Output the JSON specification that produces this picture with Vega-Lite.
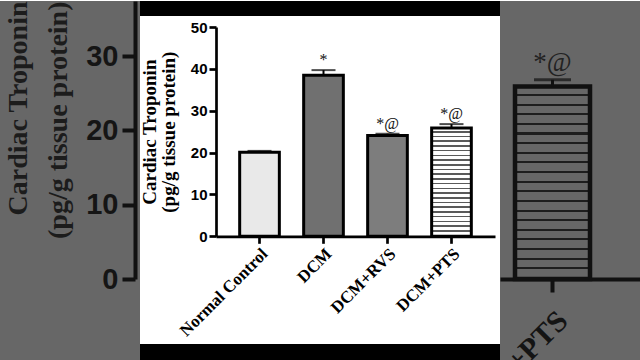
{
  "$schema": "https://vega.github.io/schema/vega-lite/v6.json",
  "background": "#ffffff",
  "padding": 0,
  "spacing": 0,
  "config": {"view": {"stroke": null}},
  "datasets": {
    "bars": [
      {"group": "Normal Control", "value": 20.1, "upper": 20.4, "label": ""},
      {"group": "DCM", "value": 38.5, "upper": 39.7, "label": "*"},
      {"group": "DCM+RVS", "value": 24.1, "upper": 24.5, "label": "*@"},
      {"group": "DCM+PTS", "value": 25.9, "upper": 26.8, "label": "*@"}
    ],
    "blank": [{"k": 1}]
  },
  "hconcat": [
    {
      "width": 140,
      "height": 360,
      "view": {"fill": "#676767", "stroke": null},
      "data": {"name": "bars"},
      "transform": [{"filter": "datum.group === 'Normal Control'"}],
      "mark": {"type": "point", "opacity": 0},
      "encoding": {
        "y": {
          "field": "value",
          "type": "quantitative",
          "scale": {"domain": [0, 37.4], "range": [278, 0], "nice": false, "zero": false},
          "axis": {
            "orient": "left",
            "offset": -135,
            "values": [0, 10, 20, 30],
            "grid": false,
            "labelFont": "Liberation Sans",
            "labelFontWeight": "bold",
            "labelFontSize": 29,
            "labelColor": "#151515",
            "labelPadding": 4,
            "tickSize": 13,
            "tickWidth": 4,
            "tickColor": "#111111",
            "domainWidth": 4,
            "domainColor": "#111111",
            "title": ["Cardiac Troponin", "(pg/g tissue protein)"],
            "titleFont": "Liberation Serif",
            "titleFontSize": 28,
            "titleFontWeight": "bold",
            "titleColor": "#1c1c1c",
            "titleLineHeight": 40,
            "titlePadding": 13,
            "titleAnchor": "end"
          }
        }
      }
    },
    {
      "spacing": 0,
      "vconcat": [
        {
          "width": 360,
          "height": 15,
          "view": {"fill": "#000000", "stroke": null},
          "data": {"name": "blank"},
          "mark": {"type": "point", "opacity": 0}
        },
        {
          "width": 360,
          "height": 328,
          "view": {"fill": "#ffffff", "stroke": null},
          "data": {"name": "bars"},
          "encoding": {
            "x": {
              "field": "group",
              "type": "nominal",
              "sort": null,
              "scale": {"range": [76, 355], "paddingInner": 0.38, "paddingOuter": 0.37},
              "axis": {
                "offset": -107.7,
                "title": null,
                "labelAngle": -45,
                "labelFont": "Liberation Serif",
                "labelFontWeight": "bold",
                "labelFontSize": 17,
                "labelColor": "#000000",
                "labelPadding": 2,
                "labelLimit": 0,
                "tickSize": 7,
                "tickWidth": 2.7,
                "tickColor": "#000000",
                "domainWidth": 2.7,
                "domainColor": "#000000"
              }
            }
          },
          "layer": [
            {
              "mark": {"type": "bar", "stroke": "#000000", "strokeWidth": 3},
              "encoding": {
                "y": {
                  "field": "value",
                  "type": "quantitative",
                  "scale": {"domain": [0, 50], "range": [220.3, 11], "nice": false},
                  "axis": {
                    "offset": -76,
                    "values": [0, 10, 20, 30, 40, 50],
                    "grid": false,
                    "labelFont": "Liberation Sans",
                    "labelFontWeight": "bold",
                    "labelFontSize": 15,
                    "labelColor": "#000000",
                    "labelPadding": 2,
                    "tickSize": 7,
                    "tickWidth": 2.7,
                    "tickColor": "#000000",
                    "domainWidth": 2.7,
                    "domainColor": "#000000",
                    "title": ["Cardiac Troponin", "(pg/g tissue protein)"],
                    "titleFont": "Liberation Serif",
                    "titleFontSize": 19,
                    "titleFontWeight": "bold",
                    "titleColor": "#000000",
                    "titleLineHeight": 19,
                    "titlePadding": 12
                  }
                },
                "fill": {
                  "condition": {
                    "test": "datum.group === 'DCM+PTS'",
                    "value": {
                      "gradient": "linear", "x1": 0, "y1": 0, "x2": 0, "y2": 1,
                      "stops": [
                        {"offset": 0, "color": "#ffffff"}, {"offset": 0.0283, "color": "#ffffff"}, {"offset": 0.0283, "color": "#5a5a5a"}, {"offset": 0.0435, "color": "#5a5a5a"},
                        {"offset": 0.0435, "color": "#ffffff"}, {"offset": 0.0717, "color": "#ffffff"}, {"offset": 0.0717, "color": "#5a5a5a"}, {"offset": 0.0870, "color": "#5a5a5a"},
                        {"offset": 0.0870, "color": "#ffffff"}, {"offset": 0.1152, "color": "#ffffff"}, {"offset": 0.1152, "color": "#5a5a5a"}, {"offset": 0.1304, "color": "#5a5a5a"},
                        {"offset": 0.1304, "color": "#ffffff"}, {"offset": 0.1587, "color": "#ffffff"}, {"offset": 0.1587, "color": "#5a5a5a"}, {"offset": 0.1739, "color": "#5a5a5a"},
                        {"offset": 0.1739, "color": "#ffffff"}, {"offset": 0.2022, "color": "#ffffff"}, {"offset": 0.2022, "color": "#5a5a5a"}, {"offset": 0.2174, "color": "#5a5a5a"},
                        {"offset": 0.2174, "color": "#ffffff"}, {"offset": 0.2457, "color": "#ffffff"}, {"offset": 0.2457, "color": "#5a5a5a"}, {"offset": 0.2609, "color": "#5a5a5a"},
                        {"offset": 0.2609, "color": "#ffffff"}, {"offset": 0.2891, "color": "#ffffff"}, {"offset": 0.2891, "color": "#5a5a5a"}, {"offset": 0.3043, "color": "#5a5a5a"},
                        {"offset": 0.3043, "color": "#ffffff"}, {"offset": 0.3326, "color": "#ffffff"}, {"offset": 0.3326, "color": "#5a5a5a"}, {"offset": 0.3478, "color": "#5a5a5a"},
                        {"offset": 0.3478, "color": "#ffffff"}, {"offset": 0.3761, "color": "#ffffff"}, {"offset": 0.3761, "color": "#5a5a5a"}, {"offset": 0.3913, "color": "#5a5a5a"},
                        {"offset": 0.3913, "color": "#ffffff"}, {"offset": 0.4196, "color": "#ffffff"}, {"offset": 0.4196, "color": "#5a5a5a"}, {"offset": 0.4348, "color": "#5a5a5a"},
                        {"offset": 0.4348, "color": "#ffffff"}, {"offset": 0.4630, "color": "#ffffff"}, {"offset": 0.4630, "color": "#5a5a5a"}, {"offset": 0.4783, "color": "#5a5a5a"},
                        {"offset": 0.4783, "color": "#ffffff"}, {"offset": 0.5065, "color": "#ffffff"}, {"offset": 0.5065, "color": "#5a5a5a"}, {"offset": 0.5217, "color": "#5a5a5a"},
                        {"offset": 0.5217, "color": "#ffffff"}, {"offset": 0.5500, "color": "#ffffff"}, {"offset": 0.5500, "color": "#5a5a5a"}, {"offset": 0.5652, "color": "#5a5a5a"},
                        {"offset": 0.5652, "color": "#ffffff"}, {"offset": 0.5935, "color": "#ffffff"}, {"offset": 0.5935, "color": "#5a5a5a"}, {"offset": 0.6087, "color": "#5a5a5a"},
                        {"offset": 0.6087, "color": "#ffffff"}, {"offset": 0.6370, "color": "#ffffff"}, {"offset": 0.6370, "color": "#5a5a5a"}, {"offset": 0.6522, "color": "#5a5a5a"},
                        {"offset": 0.6522, "color": "#ffffff"}, {"offset": 0.6804, "color": "#ffffff"}, {"offset": 0.6804, "color": "#5a5a5a"}, {"offset": 0.6957, "color": "#5a5a5a"},
                        {"offset": 0.6957, "color": "#ffffff"}, {"offset": 0.7239, "color": "#ffffff"}, {"offset": 0.7239, "color": "#5a5a5a"}, {"offset": 0.7391, "color": "#5a5a5a"},
                        {"offset": 0.7391, "color": "#ffffff"}, {"offset": 0.7674, "color": "#ffffff"}, {"offset": 0.7674, "color": "#5a5a5a"}, {"offset": 0.7826, "color": "#5a5a5a"},
                        {"offset": 0.7826, "color": "#ffffff"}, {"offset": 0.8109, "color": "#ffffff"}, {"offset": 0.8109, "color": "#5a5a5a"}, {"offset": 0.8261, "color": "#5a5a5a"},
                        {"offset": 0.8261, "color": "#ffffff"}, {"offset": 0.8543, "color": "#ffffff"}, {"offset": 0.8543, "color": "#5a5a5a"}, {"offset": 0.8696, "color": "#5a5a5a"},
                        {"offset": 0.8696, "color": "#ffffff"}, {"offset": 0.8978, "color": "#ffffff"}, {"offset": 0.8978, "color": "#5a5a5a"}, {"offset": 0.9130, "color": "#5a5a5a"},
                        {"offset": 0.9130, "color": "#ffffff"}, {"offset": 0.9413, "color": "#ffffff"}, {"offset": 0.9413, "color": "#5a5a5a"}, {"offset": 0.9565, "color": "#5a5a5a"},
                        {"offset": 0.9565, "color": "#ffffff"}, {"offset": 0.9848, "color": "#ffffff"}, {"offset": 0.9848, "color": "#5a5a5a"}, {"offset": 1, "color": "#5a5a5a"}
                      ]
                    }
                  },
                  "field": "group",
                  "type": "nominal",
                  "scale": {
                    "domain": ["Normal Control", "DCM", "DCM+RVS", "DCM+PTS"],
                    "range": ["#e9e9e9", "#707070", "#7d7d7d", "#ffffff"]
                  },
                  "legend": null
                }
              }
            },
            {
              "mark": {"type": "rule", "stroke": "#000000", "strokeWidth": 2},
              "encoding": {
                "y": {"field": "value", "type": "quantitative"},
                "y2": {"field": "upper"}
              }
            },
            {
              "mark": {"type": "tick", "color": "#000000", "thickness": 2, "size": 24},
              "encoding": {
                "y": {"field": "upper", "type": "quantitative"}
              }
            },
            {
              "mark": {"type": "text", "baseline": "bottom", "dy": -2, "font": "Liberation Serif", "fontSize": 16, "color": "#111111"},
              "encoding": {
                "y": {"field": "upper", "type": "quantitative"},
                "text": {"field": "label"}
              }
            }
          ]
        },
        {
          "width": 360,
          "height": 17,
          "view": {"fill": "#000000", "stroke": null},
          "data": {"name": "blank"},
          "mark": {"type": "point", "opacity": 0}
        }
      ]
    },
    {
      "width": 140,
      "height": 360,
      "view": {"fill": "#676767", "stroke": null},
      "data": {"name": "bars"},
      "transform": [{"filter": "datum.group === 'DCM+PTS'"}],
      "encoding": {
        "x": {
          "field": "group",
          "type": "nominal",
          "scale": {"paddingInner": 0, "paddingOuter": 0.4333, "align": 0.2308},
          "axis": {
            "orient": "bottom",
            "offset": -82,
            "labels": false,
            "title": null,
            "domainWidth": 4,
            "domainColor": "#111111",
            "tickSize": 13,
            "tickWidth": 4,
            "tickColor": "#111111"
          }
        }
      },
      "layer": [
        {
          "mark": {
            "type": "bar",
            "stroke": "#111111",
            "strokeWidth": 4.5,
            "fill": {
              "gradient": "linear", "x1": 0, "y1": 0, "x2": 0, "y2": 1,
              "stops": [
                {"offset": 0, "color": "#676767"}, {"offset": 0.039, "color": "#676767"}, {"offset": 0.039, "color": "#1e1e1e"}, {"offset": 0.05, "color": "#1e1e1e"},
                {"offset": 0.05, "color": "#676767"}, {"offset": 0.089, "color": "#676767"}, {"offset": 0.089, "color": "#1e1e1e"}, {"offset": 0.10, "color": "#1e1e1e"},
                {"offset": 0.10, "color": "#676767"}, {"offset": 0.139, "color": "#676767"}, {"offset": 0.139, "color": "#1e1e1e"}, {"offset": 0.15, "color": "#1e1e1e"},
                {"offset": 0.15, "color": "#676767"}, {"offset": 0.189, "color": "#676767"}, {"offset": 0.189, "color": "#1e1e1e"}, {"offset": 0.20, "color": "#1e1e1e"},
                {"offset": 0.20, "color": "#676767"}, {"offset": 0.239, "color": "#676767"}, {"offset": 0.239, "color": "#1e1e1e"}, {"offset": 0.25, "color": "#1e1e1e"},
                {"offset": 0.25, "color": "#676767"}, {"offset": 0.289, "color": "#676767"}, {"offset": 0.289, "color": "#1e1e1e"}, {"offset": 0.30, "color": "#1e1e1e"},
                {"offset": 0.30, "color": "#676767"}, {"offset": 0.339, "color": "#676767"}, {"offset": 0.339, "color": "#1e1e1e"}, {"offset": 0.35, "color": "#1e1e1e"},
                {"offset": 0.35, "color": "#676767"}, {"offset": 0.389, "color": "#676767"}, {"offset": 0.389, "color": "#1e1e1e"}, {"offset": 0.40, "color": "#1e1e1e"},
                {"offset": 0.40, "color": "#676767"}, {"offset": 0.439, "color": "#676767"}, {"offset": 0.439, "color": "#1e1e1e"}, {"offset": 0.45, "color": "#1e1e1e"},
                {"offset": 0.45, "color": "#676767"}, {"offset": 0.489, "color": "#676767"}, {"offset": 0.489, "color": "#1e1e1e"}, {"offset": 0.50, "color": "#1e1e1e"},
                {"offset": 0.50, "color": "#676767"}, {"offset": 0.539, "color": "#676767"}, {"offset": 0.539, "color": "#1e1e1e"}, {"offset": 0.55, "color": "#1e1e1e"},
                {"offset": 0.55, "color": "#676767"}, {"offset": 0.589, "color": "#676767"}, {"offset": 0.589, "color": "#1e1e1e"}, {"offset": 0.60, "color": "#1e1e1e"},
                {"offset": 0.60, "color": "#676767"}, {"offset": 0.639, "color": "#676767"}, {"offset": 0.639, "color": "#1e1e1e"}, {"offset": 0.65, "color": "#1e1e1e"},
                {"offset": 0.65, "color": "#676767"}, {"offset": 0.689, "color": "#676767"}, {"offset": 0.689, "color": "#1e1e1e"}, {"offset": 0.70, "color": "#1e1e1e"},
                {"offset": 0.70, "color": "#676767"}, {"offset": 0.739, "color": "#676767"}, {"offset": 0.739, "color": "#1e1e1e"}, {"offset": 0.75, "color": "#1e1e1e"},
                {"offset": 0.75, "color": "#676767"}, {"offset": 0.789, "color": "#676767"}, {"offset": 0.789, "color": "#1e1e1e"}, {"offset": 0.80, "color": "#1e1e1e"},
                {"offset": 0.80, "color": "#676767"}, {"offset": 0.839, "color": "#676767"}, {"offset": 0.839, "color": "#1e1e1e"}, {"offset": 0.85, "color": "#1e1e1e"},
                {"offset": 0.85, "color": "#676767"}, {"offset": 0.889, "color": "#676767"}, {"offset": 0.889, "color": "#1e1e1e"}, {"offset": 0.90, "color": "#1e1e1e"},
                {"offset": 0.90, "color": "#676767"}, {"offset": 0.939, "color": "#676767"}, {"offset": 0.939, "color": "#1e1e1e"}, {"offset": 0.95, "color": "#1e1e1e"},
                {"offset": 0.95, "color": "#676767"}, {"offset": 0.989, "color": "#676767"}, {"offset": 0.989, "color": "#1e1e1e"}, {"offset": 1, "color": "#1e1e1e"}
              ]
            }
          },
          "encoding": {
            "y": {
              "field": "value",
              "type": "quantitative",
              "scale": {"domain": [0, 37.4], "range": [278, 0], "nice": false, "zero": false},
              "axis": null
            },
            "y2": {"datum": 0}
          }
        },
        {
          "mark": {"type": "rule", "stroke": "#111111", "strokeWidth": 3},
          "encoding": {
            "y": {"field": "value", "type": "quantitative"},
            "y2": {"field": "upper"}
          }
        },
        {
          "mark": {"type": "tick", "color": "#111111", "thickness": 3, "size": 37},
          "encoding": {
            "y": {"field": "upper", "type": "quantitative"}
          }
        },
        {
          "mark": {"type": "text", "baseline": "bottom", "dy": -3, "font": "Liberation Serif", "fontSize": 27, "color": "#222222"},
          "encoding": {
            "y": {"field": "upper", "type": "quantitative"},
            "text": {"field": "label"}
          }
        },
        {
          "mark": {"type": "text", "angle": -45, "align": "right", "baseline": "top", "font": "Liberation Serif", "fontWeight": "bold", "fontSize": 30, "color": "#141414", "clip": true},
          "encoding": {
            "y": {"datum": -3.6},
            "text": {"field": "group"}
          }
        }
      ]
    }
  ]
}
